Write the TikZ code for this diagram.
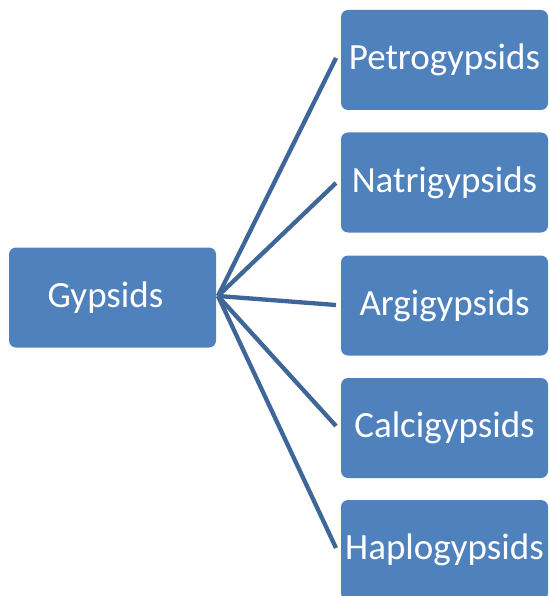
\documentclass[tikz,border=0pt]{standalone}
\usepackage{fontspec}
\setmainfont{Carlito}
\definecolor{boxblue}{RGB}{79,129,189}
\definecolor{lineblue}{RGB}{62,102,153}
\begin{document}
\begin{tikzpicture}[x=1pt,y=-1pt,
  box/.style={fill=boxblue,draw=none,rounded corners=7pt,minimum width=207pt,minimum height=100pt,inner sep=0pt,text=white,font=\fontsize{37}{40}\selectfont},
  conn/.style={draw=lineblue,line width=4.3pt}]
\useasboundingbox (0,0) rectangle (548,596);
\node[box] (g) at (112.5,297.5) {\hspace*{-14pt}Gypsids};
\node[box] (p) at (444.5,60) {Petrogypsids};
\node[box] (n) at (444.5,182.5) {Natrigypsids};
\node[box] (a) at (444.5,305.5) {Argigypsids};
\node[box] (c) at (444.5,428) {Calcigypsids};
\node[box] (h) at (444.5,550) {Haplogypsids};
\coordinate (s) at (218,296);
\coordinate (ep) at (336,58);
\coordinate (en) at (336,183);
\coordinate (ea) at (336,305);
\coordinate (ec) at (336,426);
\coordinate (eh) at (336,548);
\foreach \e in {ep,en,ea,ec,eh} \draw[conn] (s) -- (\e);
\end{tikzpicture}
\end{document}
